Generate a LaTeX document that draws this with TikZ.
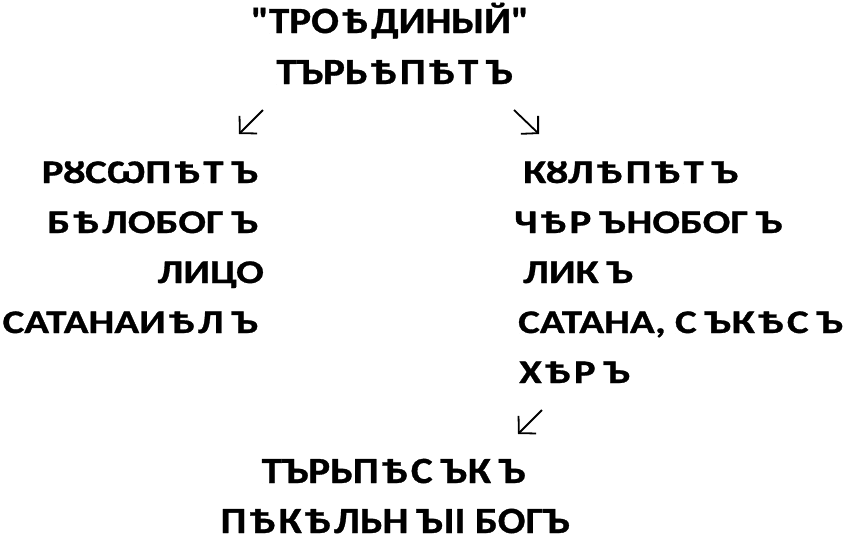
\documentclass[tikz,border=0pt]{standalone}
\usepackage{fontspec}
\newfontfamily\bodyfont{Carlito}[FakeStretch=1.24, BoldFeatures={FakeBold=0.9}]
\newfontfamily\headfont{Carlito}[FakeStretch=1.11, BoldFeatures={FakeBold=0.9}]
\newcommand\yat{\kern3pt Ѣ\kern3pt}
\newcommand\yer{\kern8pt Ъ\kern1pt}
\usetikzlibrary{arrows.meta}
\tikzset{
  word/.style={inner sep=0pt, font=\bodyfont\fontsize{33}{40}\selectfont\bfseries},
  head/.style={inner sep=0pt, font=\headfont\fontsize{37}{44}\selectfont\bfseries},
  dart/.style={line width=1.8pt, -{Straight Barb[length=12pt,width=25pt,line cap=butt]}}
}
\begin{document}
\begin{tikzpicture}[x=1pt,y=1pt]
\useasboundingbox (0,0) rectangle (850,-542);
% top
\node[head, anchor=base] (troed) at (390,-33) {"ТРО\yat ДИНЫЙ"};
\node[head, anchor=base] (trpt) at (395,-84) {ТЪРЬ\yat П\yat Т\yer};
% left column
\node[word, anchor=base east] (rusopet) at (259,-183) {РȢСѠП\yat Т\yer};
\node[word, anchor=base east] (belobog) at (259,-233) {Б\yat ЛОБОГ\yer};
\node[word, anchor=base east] (lice) at (264,-283) {ЛИЦО};
\node[word, anchor=base east] (satanail) at (259,-333) {САТАНАИ\yat Л\yer};
% right column
\node[word, anchor=base west] (kulepet) at (523,-183) {КȢЛ\yat П\yat Т\yer};
\node[word, anchor=base west] (chernobog) at (514,-233) {Ч\yat Р\yer НОБОГ\yer};
\node[word, anchor=base west] (lik) at (523,-283) {ЛИК\yer};
\node[word, anchor=base west] (satana) at (518,-333) {САТАНА, С\yer К\yat С\yer};
\node[word, anchor=base west] (hair) at (519,-383) {Х\yat Р\yer};
% bottom
\node[head, anchor=base] (trpesk) at (394,-483) {ТЪРЬП\yat С\yer К\yer};
\node[head, anchor=base] (pekel) at (395,-533) {П\yat К\yat ЛЬН\yer ІІ БОГЪ};
% arrows
\coordinate (l1) at (263,-110); \coordinate (l2) at (239,-134);
\coordinate (r1) at (514,-110); \coordinate (r2) at (539,-134);
\coordinate (b1) at (542,-410); \coordinate (b2) at (518,-434);
\draw[dart] (l1) -- (l2);
\draw[dart] (r1) -- (r2);
\draw[dart] (b1) -- (b2);
\end{tikzpicture}
\end{document}
